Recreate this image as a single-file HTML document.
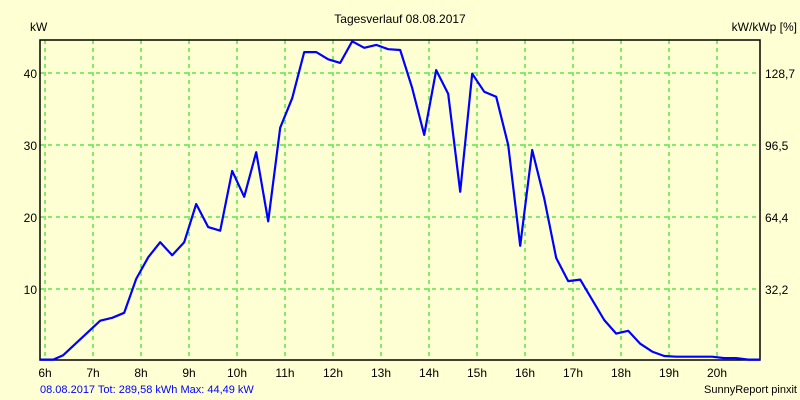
<!DOCTYPE html>
<html><head><meta charset="utf-8"><style>
body{margin:0;background:#ffffd4;}
svg{display:block;font-family:"Liberation Sans",sans-serif;}
</style></head><body>
<svg width="800" height="400">
<rect width="800" height="400" fill="#ffffd4"/>
<g id="grid"></g>
<g id="axes"></g>
<g id="series"></g>
<text x="400" y="23" text-anchor="middle" font-size="12">Tagesverlauf 08.08.2017</text>
<text x="30" y="31" font-size="12">kW</text>
<text x="797" y="31" text-anchor="end" font-size="12">kW/kWp [%]</text>
<text x="40" y="393" font-size="11" fill="#0000ff">08.08.2017 Tot: 289,58 kWh Max: 44,49 kW</text>
<text x="797" y="393" text-anchor="end" font-size="11">SunnyReport pinxit</text>
</svg>
<script>
const hourTicks=[6,7,8,9,10,11,12,13,14,15,16,17,18,19,20];
const yTicks=[10,20,30,40];
const y2Labels=["32,2","64,4","96,5","128,7"];
const times=[5.9,6.17,6.38,7.15,7.4,7.65,7.9,8.15,8.4,8.65,8.9,9.15,9.4,9.65,9.9,10.15,10.4,10.65,10.9,11.15,11.4,11.65,11.9,12.15,12.4,12.65,12.9,13.15,13.4,13.65,13.9,14.15,14.4,14.65,14.9,15.15,15.4,15.65,15.9,16.15,16.4,16.65,16.9,17.15,17.4,17.65,17.9,18.15,18.4,18.65,18.9,19.15,19.4,19.65,19.9,20.15,20.4,20.65,20.9];
const power=[0.2,0.2,0.8,5.6,6.0,6.7,11.4,14.4,16.5,14.7,16.5,21.8,18.6,18.1,26.4,22.8,29.0,19.4,32.4,36.5,42.9,42.9,41.9,41.4,44.4,43.5,43.9,43.3,43.2,37.9,31.4,40.4,37.1,23.5,39.9,37.4,36.7,30.0,16.0,29.3,22.6,14.3,11.1,11.3,8.5,5.7,3.8,4.2,2.4,1.3,0.7,0.6,0.6,0.6,0.6,0.4,0.4,0.2,0.2];
const L=40,R=760,T=40,B=360;
const xs=h=>45+(h-6)*48;
const ys=v=>361-v*7.2;
const NS="http://www.w3.org/2000/svg";
function mk(tag,attrs,parent){const e=document.createElementNS(NS,tag);for(const k in attrs)e.setAttribute(k,attrs[k]);parent.appendChild(e);return e;}
const grid=document.getElementById('grid'),axes=document.getElementById('axes'),series=document.getElementById('series');
hourTicks.forEach(h=>{
 const x=xs(h);
 const l=mk('line',{x1:x,x2:x,y1:T,y2:B,stroke:'#00dd00','stroke-dasharray':'4,4'},grid);
 
 
 const t=mk('text',{x:x,y:377,'text-anchor':'middle','font-size':12},axes);
 t.textContent=h+'h';
 
 
});
yTicks.forEach((v,i)=>{
 const y=ys(v);
 const l=mk('line',{x1:L,x2:R,y1:y,y2:y,stroke:'#00dd00','stroke-dasharray':'4,4'},grid);
 
 
 const t=mk('text',{x:37,y:y+5,'text-anchor':'end','font-size':12},axes);
 t.textContent=v;
 
 
 const t2=mk('text',{x:765,y:y+5,'font-size':12},axes);
 t2.textContent=y2Labels[i];
 
 
});
const frame=mk('path',{d:`M${L} ${T}H${R}V${B}H${L}Z`,fill:'none',stroke:'#000','stroke-width':1.5},axes);


const pts=times.map((t,i)=>xs(t).toFixed(1)+','+ys(power[i]).toFixed(1)).join(' ');
const line=mk('polyline',{points:pts,fill:'none',stroke:'#0000ff','stroke-width':2.2,'stroke-linejoin':'round'},series);


</script>
</body></html>
